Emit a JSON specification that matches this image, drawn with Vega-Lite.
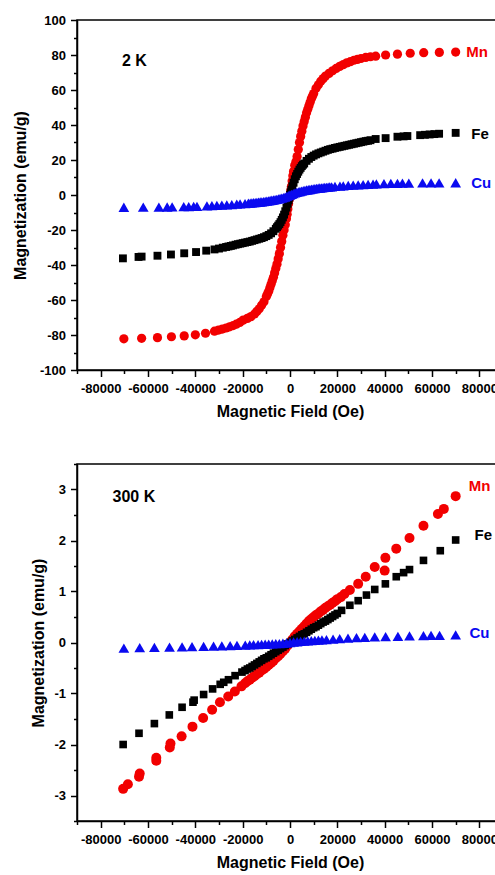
{
  "$schema": "https://vega.github.io/schema/vega-lite/v6.json",
  "padding": {"left": 11, "top": 13, "right": 0, "bottom": 0},
  "spacing": 41,
  "config": {
    "font": "Liberation Sans",
    "view": {"stroke": "black", "strokeWidth": 1.5},
    "axis": {
      "domainColor": "black", "domainWidth": 1.5, "tickColor": "black", "tickWidth": 1.5,
      "labelFont": "Liberation Sans", "labelFontWeight": "bold", "labelFontSize": 13, "labelColor": "black",
      "titleFont": "Liberation Sans", "titleFontWeight": "bold", "titleFontSize": 16, "titleColor": "black",
      "grid": false, "tickSize": 6.5, "labelPadding": 4
    },
    "axisX": {"labelPadding": 6},
    "axisY": {"labelPadding": 5}
  },
  "resolve": {"scale": {"size": "independent"}},
  "datasets": {
    "k2": [
      {"H": 0, "M": 0, "s": "Mn"}, {"H": 300, "M": 2.5, "s": "Mn"}, {"H": 600, "M": 5, "s": "Mn"}, {"H": 900, "M": 8, "s": "Mn"}, {"H": 1200, "M": 11, "s": "Mn"}, {"H": 1500, "M": 13.5, "s": "Mn"}, {"H": 2000, "M": 17, "s": "Mn"}, {"H": 2500, "M": 19, "s": "Mn"}, {"H": 3000, "M": 22, "s": "Mn"}, {"H": 3500, "M": 26, "s": "Mn"}, {"H": 4000, "M": 30, "s": "Mn"}, {"H": 4500, "M": 33.5, "s": "Mn"}, {"H": 5000, "M": 36.5, "s": "Mn"}, {"H": 5500, "M": 39.5, "s": "Mn"}, {"H": 6000, "M": 42, "s": "Mn"}, {"H": 6500, "M": 44.5, "s": "Mn"}, {"H": 7000, "M": 47, "s": "Mn"}, {"H": 7500, "M": 49, "s": "Mn"}, {"H": 8000, "M": 51, "s": "Mn"}, {"H": 8500, "M": 53, "s": "Mn"}, {"H": 9000, "M": 55, "s": "Mn"}, {"H": 9500, "M": 56.5, "s": "Mn"}, {"H": 10000, "M": 58, "s": "Mn"}, {"H": 11000, "M": 61, "s": "Mn"}, {"H": 12000, "M": 63, "s": "Mn"}, {"H": 13000, "M": 65, "s": "Mn"}, {"H": 14000, "M": 66.5, "s": "Mn"}, {"H": 15000, "M": 68, "s": "Mn"}, {"H": 16500, "M": 69.5, "s": "Mn"}, {"H": 18000, "M": 71, "s": "Mn"}, {"H": 19500, "M": 72.3, "s": "Mn"}, {"H": 21000, "M": 73.5, "s": "Mn"}, {"H": 22500, "M": 74.5, "s": "Mn"}, {"H": 24000, "M": 75.5, "s": "Mn"}, {"H": 25500, "M": 76.2, "s": "Mn"}, {"H": 27000, "M": 77, "s": "Mn"}, {"H": 28500, "M": 77.5, "s": "Mn"}, {"H": 30000, "M": 78, "s": "Mn"}, {"H": 32000, "M": 78.6, "s": "Mn"}, {"H": 34000, "M": 79, "s": "Mn"}, {"H": 36200, "M": 79.3, "s": "Mn"}, {"H": 40400, "M": 80, "s": "Mn"}, {"H": 45400, "M": 80.5, "s": "Mn"}, {"H": 50800, "M": 81, "s": "Mn"}, {"H": 56500, "M": 81.3, "s": "Mn"}, {"H": 63100, "M": 81.5, "s": "Mn"}, {"H": 70000, "M": 81.7, "s": "Mn"},
      {"H": -300, "M": -2.5, "s": "Mn"}, {"H": -600, "M": -5, "s": "Mn"}, {"H": -900, "M": -8, "s": "Mn"}, {"H": -1200, "M": -11, "s": "Mn"}, {"H": -1500, "M": -13.5, "s": "Mn"}, {"H": -2000, "M": -17, "s": "Mn"}, {"H": -2500, "M": -20, "s": "Mn"}, {"H": -3000, "M": -23, "s": "Mn"}, {"H": -3500, "M": -26.5, "s": "Mn"}, {"H": -4000, "M": -30, "s": "Mn"}, {"H": -4500, "M": -33.5, "s": "Mn"}, {"H": -5000, "M": -36.5, "s": "Mn"}, {"H": -5500, "M": -39.5, "s": "Mn"}, {"H": -6000, "M": -42, "s": "Mn"}, {"H": -6500, "M": -44.5, "s": "Mn"}, {"H": -7000, "M": -47, "s": "Mn"}, {"H": -7500, "M": -49, "s": "Mn"}, {"H": -8000, "M": -51, "s": "Mn"}, {"H": -8500, "M": -53, "s": "Mn"}, {"H": -9000, "M": -55, "s": "Mn"}, {"H": -9500, "M": -56.5, "s": "Mn"}, {"H": -10000, "M": -58, "s": "Mn"}, {"H": -11000, "M": -61, "s": "Mn"}, {"H": -12000, "M": -63, "s": "Mn"}, {"H": -13000, "M": -65, "s": "Mn"}, {"H": -14000, "M": -66.5, "s": "Mn"}, {"H": -15000, "M": -68, "s": "Mn"}, {"H": -16500, "M": -69.5, "s": "Mn"}, {"H": -18000, "M": -70.5, "s": "Mn"}, {"H": -19800, "M": -71.5, "s": "Mn"}, {"H": -21200, "M": -72.8, "s": "Mn"}, {"H": -22700, "M": -73.8, "s": "Mn"}, {"H": -24000, "M": -74.6, "s": "Mn"}, {"H": -25500, "M": -75.3, "s": "Mn"}, {"H": -27000, "M": -76, "s": "Mn"}, {"H": -28600, "M": -76.6, "s": "Mn"}, {"H": -30200, "M": -77.2, "s": "Mn"}, {"H": -31900, "M": -77.8, "s": "Mn"}, {"H": -35700, "M": -79, "s": "Mn"}, {"H": -40000, "M": -79.9, "s": "Mn"}, {"H": -44700, "M": -80.5, "s": "Mn"}, {"H": -50100, "M": -81, "s": "Mn"}, {"H": -56000, "M": -81.5, "s": "Mn"}, {"H": -62700, "M": -81.9, "s": "Mn"}, {"H": -70200, "M": -82.2, "s": "Mn"},

      {"H": 0, "M": 0, "s": "Fe"}, {"H": 300, "M": 1.5, "s": "Fe"}, {"H": 600, "M": 3, "s": "Fe"}, {"H": 1000, "M": 5, "s": "Fe"}, {"H": 1500, "M": 7, "s": "Fe"}, {"H": 2000, "M": 9, "s": "Fe"}, {"H": 2500, "M": 10.7, "s": "Fe"}, {"H": 3000, "M": 12, "s": "Fe"}, {"H": 3500, "M": 13.3, "s": "Fe"}, {"H": 4000, "M": 14.5, "s": "Fe"}, {"H": 4500, "M": 15.5, "s": "Fe"}, {"H": 5000, "M": 16.5, "s": "Fe"}, {"H": 5500, "M": 17.3, "s": "Fe"}, {"H": 6000, "M": 18, "s": "Fe"}, {"H": 7000, "M": 19.5, "s": "Fe"}, {"H": 8000, "M": 20.7, "s": "Fe"}, {"H": 9000, "M": 21.7, "s": "Fe"}, {"H": 10000, "M": 22.5, "s": "Fe"}, {"H": 11000, "M": 23.2, "s": "Fe"}, {"H": 12000, "M": 23.8, "s": "Fe"}, {"H": 13000, "M": 24.3, "s": "Fe"}, {"H": 14000, "M": 24.8, "s": "Fe"}, {"H": 15000, "M": 25.3, "s": "Fe"}, {"H": 16000, "M": 25.8, "s": "Fe"}, {"H": 17000, "M": 26.2, "s": "Fe"}, {"H": 18000, "M": 26.5, "s": "Fe"}, {"H": 19000, "M": 26.9, "s": "Fe"}, {"H": 20000, "M": 27.2, "s": "Fe"}, {"H": 21000, "M": 27.5, "s": "Fe"}, {"H": 22000, "M": 27.8, "s": "Fe"}, {"H": 23000, "M": 28.1, "s": "Fe"}, {"H": 24000, "M": 28.4, "s": "Fe"}, {"H": 25000, "M": 28.7, "s": "Fe"}, {"H": 26000, "M": 29, "s": "Fe"}, {"H": 27000, "M": 29.3, "s": "Fe"}, {"H": 28000, "M": 29.6, "s": "Fe"}, {"H": 29000, "M": 29.9, "s": "Fe"}, {"H": 30000, "M": 30.2, "s": "Fe"}, {"H": 31000, "M": 30.5, "s": "Fe"}, {"H": 32000, "M": 30.8, "s": "Fe"}, {"H": 33000, "M": 31, "s": "Fe"}, {"H": 34000, "M": 31.3, "s": "Fe"}, {"H": 36200, "M": 32, "s": "Fe"}, {"H": 40400, "M": 32.5, "s": "Fe"}, {"H": 45400, "M": 33.3, "s": "Fe"}, {"H": 48000, "M": 33.5, "s": "Fe"}, {"H": 49600, "M": 33.7, "s": "Fe"}, {"H": 55000, "M": 34.2, "s": "Fe"}, {"H": 57000, "M": 34.4, "s": "Fe"}, {"H": 59000, "M": 34.6, "s": "Fe"}, {"H": 61000, "M": 34.8, "s": "Fe"}, {"H": 63000, "M": 35, "s": "Fe"}, {"H": 70000, "M": 35.5, "s": "Fe"},
      {"H": -300, "M": -1.5, "s": "Fe"}, {"H": -600, "M": -3, "s": "Fe"}, {"H": -1000, "M": -5, "s": "Fe"}, {"H": -1500, "M": -7.2, "s": "Fe"}, {"H": -2000, "M": -9.3, "s": "Fe"}, {"H": -2500, "M": -11.2, "s": "Fe"}, {"H": -3000, "M": -12.8, "s": "Fe"}, {"H": -3500, "M": -14.2, "s": "Fe"}, {"H": -4000, "M": -15.5, "s": "Fe"}, {"H": -4500, "M": -16.6, "s": "Fe"}, {"H": -5000, "M": -17.5, "s": "Fe"}, {"H": -5500, "M": -18.4, "s": "Fe"}, {"H": -6000, "M": -19.3, "s": "Fe"}, {"H": -7000, "M": -20.7, "s": "Fe"}, {"H": -8000, "M": -21.9, "s": "Fe"}, {"H": -9000, "M": -22.8, "s": "Fe"}, {"H": -10000, "M": -23.5, "s": "Fe"}, {"H": -11000, "M": -24.1, "s": "Fe"}, {"H": -12000, "M": -24.6, "s": "Fe"}, {"H": -13000, "M": -25, "s": "Fe"}, {"H": -14000, "M": -25.4, "s": "Fe"}, {"H": -15000, "M": -25.8, "s": "Fe"}, {"H": -16000, "M": -26.2, "s": "Fe"}, {"H": -17000, "M": -26.6, "s": "Fe"}, {"H": -18000, "M": -26.9, "s": "Fe"}, {"H": -19000, "M": -27.2, "s": "Fe"}, {"H": -20000, "M": -27.5, "s": "Fe"}, {"H": -21000, "M": -27.8, "s": "Fe"}, {"H": -22000, "M": -28.1, "s": "Fe"}, {"H": -23000, "M": -28.4, "s": "Fe"}, {"H": -24100, "M": -28.8, "s": "Fe"}, {"H": -25000, "M": -29.1, "s": "Fe"}, {"H": -26000, "M": -29.4, "s": "Fe"}, {"H": -27000, "M": -29.7, "s": "Fe"}, {"H": -28400, "M": -30.1, "s": "Fe"}, {"H": -30000, "M": -30.6, "s": "Fe"}, {"H": -31900, "M": -31.1, "s": "Fe"}, {"H": -35400, "M": -31.8, "s": "Fe"}, {"H": -39700, "M": -32.6, "s": "Fe"}, {"H": -44700, "M": -33.3, "s": "Fe"}, {"H": -50300, "M": -34, "s": "Fe"}, {"H": -56000, "M": -34.7, "s": "Fe"}, {"H": -62700, "M": -35.2, "s": "Fe"}, {"H": -64000, "M": -35.4, "s": "Fe"}, {"H": -70600, "M": -36.2, "s": "Fe"},

      {"H": 0, "M": 0, "s": "Cu"}, {"H": 700, "M": 0.4, "s": "Cu"}, {"H": 1400, "M": 0.8, "s": "Cu"}, {"H": 2100, "M": 1.2, "s": "Cu"}, {"H": 2800, "M": 1.5, "s": "Cu"}, {"H": 3500, "M": 1.8, "s": "Cu"}, {"H": 4200, "M": 2.0, "s": "Cu"}, {"H": 4900, "M": 2.25, "s": "Cu"}, {"H": 5600, "M": 2.45, "s": "Cu"}, {"H": 6300, "M": 2.65, "s": "Cu"}, {"H": 7000, "M": 2.85, "s": "Cu"}, {"H": 7700, "M": 3.0, "s": "Cu"}, {"H": 8400, "M": 3.15, "s": "Cu"}, {"H": 9100, "M": 3.3, "s": "Cu"}, {"H": 9800, "M": 3.45, "s": "Cu"}, {"H": 10500, "M": 3.6, "s": "Cu"}, {"H": 11200, "M": 3.75, "s": "Cu"}, {"H": 11900, "M": 3.9, "s": "Cu"}, {"H": 12600, "M": 4.0, "s": "Cu"}, {"H": 13300, "M": 4.1, "s": "Cu"}, {"H": 14000, "M": 4.2, "s": "Cu"}, {"H": 14700, "M": 4.3, "s": "Cu"}, {"H": 15400, "M": 4.4, "s": "Cu"}, {"H": 16100, "M": 4.5, "s": "Cu"}, {"H": 16800, "M": 4.6, "s": "Cu"}, {"H": 17600, "M": 4.7, "s": "Cu"}, {"H": 19000, "M": 4.9, "s": "Cu"}, {"H": 21100, "M": 5.1, "s": "Cu"}, {"H": 22500, "M": 5.25, "s": "Cu"}, {"H": 24600, "M": 5.45, "s": "Cu"}, {"H": 26700, "M": 5.6, "s": "Cu"}, {"H": 28800, "M": 5.75, "s": "Cu"}, {"H": 30900, "M": 5.9, "s": "Cu"}, {"H": 33000, "M": 6.05, "s": "Cu"}, {"H": 35100, "M": 6.2, "s": "Cu"}, {"H": 36500, "M": 6.3, "s": "Cu"}, {"H": 39700, "M": 6.5, "s": "Cu"}, {"H": 42600, "M": 6.6, "s": "Cu"}, {"H": 45400, "M": 6.7, "s": "Cu"}, {"H": 47500, "M": 6.75, "s": "Cu"}, {"H": 50200, "M": 6.8, "s": "Cu"}, {"H": 56000, "M": 6.9, "s": "Cu"}, {"H": 59600, "M": 6.9, "s": "Cu"}, {"H": 63000, "M": 6.95, "s": "Cu"}, {"H": 70000, "M": 7.0, "s": "Cu"},
      {"H": -700, "M": -0.4, "s": "Cu"}, {"H": -1400, "M": -0.8, "s": "Cu"}, {"H": -2100, "M": -1.2, "s": "Cu"}, {"H": -2800, "M": -1.5, "s": "Cu"}, {"H": -3500, "M": -1.8, "s": "Cu"}, {"H": -4200, "M": -2.0, "s": "Cu"}, {"H": -4900, "M": -2.25, "s": "Cu"}, {"H": -5600, "M": -2.45, "s": "Cu"}, {"H": -6300, "M": -2.65, "s": "Cu"}, {"H": -7000, "M": -2.85, "s": "Cu"}, {"H": -7700, "M": -3.0, "s": "Cu"}, {"H": -8400, "M": -3.15, "s": "Cu"}, {"H": -9100, "M": -3.3, "s": "Cu"}, {"H": -9800, "M": -3.45, "s": "Cu"}, {"H": -10500, "M": -3.6, "s": "Cu"}, {"H": -11200, "M": -3.75, "s": "Cu"}, {"H": -11900, "M": -3.9, "s": "Cu"}, {"H": -12600, "M": -4.0, "s": "Cu"}, {"H": -13300, "M": -4.1, "s": "Cu"}, {"H": -14000, "M": -4.2, "s": "Cu"}, {"H": -14700, "M": -4.3, "s": "Cu"}, {"H": -15400, "M": -4.4, "s": "Cu"}, {"H": -16100, "M": -4.5, "s": "Cu"}, {"H": -16800, "M": -4.6, "s": "Cu"}, {"H": -17600, "M": -4.7, "s": "Cu"}, {"H": -19000, "M": -4.9, "s": "Cu"}, {"H": -21100, "M": -5.1, "s": "Cu"}, {"H": -22500, "M": -5.25, "s": "Cu"}, {"H": -24600, "M": -5.45, "s": "Cu"}, {"H": -26700, "M": -5.6, "s": "Cu"}, {"H": -28800, "M": -5.75, "s": "Cu"}, {"H": -30900, "M": -5.9, "s": "Cu"}, {"H": -33000, "M": -6.05, "s": "Cu"}, {"H": -35100, "M": -6.2, "s": "Cu"}, {"H": -39300, "M": -6.45, "s": "Cu"}, {"H": -40700, "M": -6.5, "s": "Cu"}, {"H": -42800, "M": -6.6, "s": "Cu"}, {"H": -44900, "M": -6.7, "s": "Cu"}, {"H": -49800, "M": -6.8, "s": "Cu"}, {"H": -51900, "M": -6.85, "s": "Cu"}, {"H": -55400, "M": -6.9, "s": "Cu"}, {"H": -62000, "M": -6.95, "s": "Cu"}, {"H": -70200, "M": -7.0, "s": "Cu"}
    ],
    "k300": [
      {"H": 0, "M": 0, "s": "Mn"}, {"H": 1000, "M": 0.06, "s": "Mn"}, {"H": 2000, "M": 0.12, "s": "Mn"}, {"H": 3000, "M": 0.17, "s": "Mn"}, {"H": 4000, "M": 0.22, "s": "Mn"}, {"H": 5000, "M": 0.27, "s": "Mn"}, {"H": 6000, "M": 0.32, "s": "Mn"}, {"H": 7000, "M": 0.37, "s": "Mn"}, {"H": 8000, "M": 0.42, "s": "Mn"}, {"H": 9000, "M": 0.46, "s": "Mn"}, {"H": 10000, "M": 0.5, "s": "Mn"}, {"H": 11000, "M": 0.54, "s": "Mn"}, {"H": 12000, "M": 0.57, "s": "Mn"}, {"H": 13000, "M": 0.61, "s": "Mn"}, {"H": 14000, "M": 0.64, "s": "Mn"}, {"H": 15000, "M": 0.68, "s": "Mn"}, {"H": 16000, "M": 0.71, "s": "Mn"}, {"H": 17000, "M": 0.74, "s": "Mn"}, {"H": 18000, "M": 0.78, "s": "Mn"}, {"H": 19000, "M": 0.81, "s": "Mn"}, {"H": 20000, "M": 0.85, "s": "Mn"}, {"H": 21500, "M": 0.89, "s": "Mn"}, {"H": 23000, "M": 0.95, "s": "Mn"}, {"H": 25300, "M": 1.03, "s": "Mn"}, {"H": 28800, "M": 1.15, "s": "Mn"}, {"H": 32000, "M": 1.29, "s": "Mn"}, {"H": 35800, "M": 1.48, "s": "Mn"}, {"H": 40000, "M": 1.41, "s": "Mn"}, {"H": 40300, "M": 1.66, "s": "Mn"}, {"H": 44900, "M": 1.84, "s": "Mn"}, {"H": 50500, "M": 2.05, "s": "Mn"}, {"H": 56400, "M": 2.29, "s": "Mn"}, {"H": 62500, "M": 2.52, "s": "Mn"}, {"H": 65000, "M": 2.62, "s": "Mn"}, {"H": 70000, "M": 2.87, "s": "Mn"},
      {"H": -1000, "M": -0.06, "s": "Mn"}, {"H": -2000, "M": -0.12, "s": "Mn"}, {"H": -3000, "M": -0.17, "s": "Mn"}, {"H": -4000, "M": -0.22, "s": "Mn"}, {"H": -5000, "M": -0.27, "s": "Mn"}, {"H": -6000, "M": -0.31, "s": "Mn"}, {"H": -7000, "M": -0.36, "s": "Mn"}, {"H": -8000, "M": -0.4, "s": "Mn"}, {"H": -9000, "M": -0.44, "s": "Mn"}, {"H": -10000, "M": -0.48, "s": "Mn"}, {"H": -11000, "M": -0.52, "s": "Mn"}, {"H": -12000, "M": -0.55, "s": "Mn"}, {"H": -13000, "M": -0.59, "s": "Mn"}, {"H": -14000, "M": -0.62, "s": "Mn"}, {"H": -15000, "M": -0.66, "s": "Mn"}, {"H": -16000, "M": -0.69, "s": "Mn"}, {"H": -17000, "M": -0.73, "s": "Mn"}, {"H": -18000, "M": -0.76, "s": "Mn"}, {"H": -19000, "M": -0.8, "s": "Mn"}, {"H": -20500, "M": -0.86, "s": "Mn"}, {"H": -23300, "M": -0.96, "s": "Mn"}, {"H": -26100, "M": -1.06, "s": "Mn"}, {"H": -29600, "M": -1.17, "s": "Mn"}, {"H": -32900, "M": -1.32, "s": "Mn"}, {"H": -36700, "M": -1.48, "s": "Mn"}, {"H": -41200, "M": -1.65, "s": "Mn"}, {"H": -45800, "M": -1.84, "s": "Mn"}, {"H": -50500, "M": -1.98, "s": "Mn"}, {"H": -50800, "M": -2.06, "s": "Mn"}, {"H": -56500, "M": -2.26, "s": "Mn"}, {"H": -56500, "M": -2.32, "s": "Mn"}, {"H": -63500, "M": -2.57, "s": "Mn"}, {"H": -63800, "M": -2.63, "s": "Mn"}, {"H": -68500, "M": -2.78, "s": "Mn"}, {"H": -70500, "M": -2.87, "s": "Mn"},

      {"H": 0, "M": 0, "s": "Fe"}, {"H": 1000, "M": 0.03, "s": "Fe"}, {"H": 2000, "M": 0.06, "s": "Fe"}, {"H": 3000, "M": 0.09, "s": "Fe"}, {"H": 4000, "M": 0.12, "s": "Fe"}, {"H": 5000, "M": 0.15, "s": "Fe"}, {"H": 6000, "M": 0.17, "s": "Fe"}, {"H": 7000, "M": 0.2, "s": "Fe"}, {"H": 8000, "M": 0.23, "s": "Fe"}, {"H": 9000, "M": 0.26, "s": "Fe"}, {"H": 10000, "M": 0.29, "s": "Fe"}, {"H": 11000, "M": 0.31, "s": "Fe"}, {"H": 12000, "M": 0.34, "s": "Fe"}, {"H": 13000, "M": 0.37, "s": "Fe"}, {"H": 14000, "M": 0.4, "s": "Fe"}, {"H": 15000, "M": 0.42, "s": "Fe"}, {"H": 16000, "M": 0.45, "s": "Fe"}, {"H": 17000, "M": 0.48, "s": "Fe"}, {"H": 18000, "M": 0.51, "s": "Fe"}, {"H": 19000, "M": 0.54, "s": "Fe"}, {"H": 20000, "M": 0.57, "s": "Fe"}, {"H": 21800, "M": 0.63, "s": "Fe"}, {"H": 25300, "M": 0.73, "s": "Fe"}, {"H": 28800, "M": 0.82, "s": "Fe"}, {"H": 32300, "M": 0.93, "s": "Fe"}, {"H": 35800, "M": 1.04, "s": "Fe"}, {"H": 40300, "M": 1.15, "s": "Fe"}, {"H": 44900, "M": 1.29, "s": "Fe"}, {"H": 48000, "M": 1.37, "s": "Fe"}, {"H": 50500, "M": 1.43, "s": "Fe"}, {"H": 56400, "M": 1.61, "s": "Fe"}, {"H": 63500, "M": 1.8, "s": "Fe"}, {"H": 70000, "M": 2.01, "s": "Fe"},
      {"H": -1000, "M": -0.03, "s": "Fe"}, {"H": -2000, "M": -0.06, "s": "Fe"}, {"H": -3000, "M": -0.09, "s": "Fe"}, {"H": -4000, "M": -0.12, "s": "Fe"}, {"H": -5000, "M": -0.15, "s": "Fe"}, {"H": -6000, "M": -0.18, "s": "Fe"}, {"H": -7000, "M": -0.21, "s": "Fe"}, {"H": -8000, "M": -0.24, "s": "Fe"}, {"H": -9000, "M": -0.27, "s": "Fe"}, {"H": -10000, "M": -0.3, "s": "Fe"}, {"H": -11000, "M": -0.32, "s": "Fe"}, {"H": -12000, "M": -0.35, "s": "Fe"}, {"H": -13000, "M": -0.38, "s": "Fe"}, {"H": -14000, "M": -0.41, "s": "Fe"}, {"H": -15000, "M": -0.44, "s": "Fe"}, {"H": -16000, "M": -0.47, "s": "Fe"}, {"H": -17000, "M": -0.5, "s": "Fe"}, {"H": -18000, "M": -0.52, "s": "Fe"}, {"H": -19000, "M": -0.55, "s": "Fe"}, {"H": -20300, "M": -0.58, "s": "Fe"}, {"H": -23200, "M": -0.65, "s": "Fe"}, {"H": -26000, "M": -0.73, "s": "Fe"}, {"H": -28000, "M": -0.78, "s": "Fe"}, {"H": -29500, "M": -0.82, "s": "Fe"}, {"H": -32700, "M": -0.91, "s": "Fe"}, {"H": -36500, "M": -1.02, "s": "Fe"}, {"H": -40500, "M": -1.13, "s": "Fe"}, {"H": -41000, "M": -1.17, "s": "Fe"}, {"H": -45600, "M": -1.27, "s": "Fe"}, {"H": -51000, "M": -1.42, "s": "Fe"}, {"H": -57300, "M": -1.59, "s": "Fe"}, {"H": -63800, "M": -1.78, "s": "Fe"}, {"H": -70500, "M": -2.0, "s": "Fe"},

      {"H": 0, "M": 0.0, "s": "Cu"}, {"H": 1500, "M": 0.01, "s": "Cu"}, {"H": 3000, "M": 0.015, "s": "Cu"}, {"H": 4500, "M": 0.02, "s": "Cu"}, {"H": 6000, "M": 0.025, "s": "Cu"}, {"H": 7500, "M": 0.03, "s": "Cu"}, {"H": 9000, "M": 0.035, "s": "Cu"}, {"H": 10500, "M": 0.04, "s": "Cu"}, {"H": 12000, "M": 0.045, "s": "Cu"}, {"H": 13500, "M": 0.05, "s": "Cu"}, {"H": 15400, "M": 0.055, "s": "Cu"}, {"H": 18200, "M": 0.065, "s": "Cu"}, {"H": 21000, "M": 0.075, "s": "Cu"}, {"H": 24500, "M": 0.085, "s": "Cu"}, {"H": 28100, "M": 0.095, "s": "Cu"}, {"H": 31600, "M": 0.1, "s": "Cu"}, {"H": 35800, "M": 0.11, "s": "Cu"}, {"H": 40400, "M": 0.115, "s": "Cu"}, {"H": 45600, "M": 0.12, "s": "Cu"}, {"H": 50500, "M": 0.13, "s": "Cu"}, {"H": 56400, "M": 0.135, "s": "Cu"}, {"H": 59600, "M": 0.14, "s": "Cu"}, {"H": 63200, "M": 0.14, "s": "Cu"}, {"H": 70000, "M": 0.15, "s": "Cu"},
      {"H": -1500, "M": -0.01, "s": "Cu"}, {"H": -3000, "M": -0.015, "s": "Cu"}, {"H": -4500, "M": -0.02, "s": "Cu"}, {"H": -6000, "M": -0.023, "s": "Cu"}, {"H": -7500, "M": -0.027, "s": "Cu"}, {"H": -9000, "M": -0.03, "s": "Cu"}, {"H": -10500, "M": -0.034, "s": "Cu"}, {"H": -12000, "M": -0.037, "s": "Cu"}, {"H": -13500, "M": -0.04, "s": "Cu"}, {"H": -15400, "M": -0.043, "s": "Cu"}, {"H": -17000, "M": -0.046, "s": "Cu"}, {"H": -18900, "M": -0.05, "s": "Cu"}, {"H": -22400, "M": -0.055, "s": "Cu"}, {"H": -25300, "M": -0.06, "s": "Cu"}, {"H": -28800, "M": -0.065, "s": "Cu"}, {"H": -32300, "M": -0.07, "s": "Cu"}, {"H": -36500, "M": -0.075, "s": "Cu"}, {"H": -41400, "M": -0.08, "s": "Cu"}, {"H": -45600, "M": -0.085, "s": "Cu"}, {"H": -50900, "M": -0.09, "s": "Cu"}, {"H": -57300, "M": -0.095, "s": "Cu"}, {"H": -63500, "M": -0.1, "s": "Cu"}, {"H": -70200, "M": -0.11, "s": "Cu"}
    ],
    "lab2": [
      {"H": 74500, "M": 81.5, "s": "Mn", "t": "Mn"},
      {"H": 76600, "M": 35, "s": "Fe", "t": "Fe"},
      {"H": 76600, "M": 6.8, "s": "Cu", "t": "Cu"}
    ],
    "lab300": [
      {"H": 75500, "M": 3.07, "s": "Mn", "t": "Mn"},
      {"H": 78000, "M": 2.1, "s": "Fe", "t": "Fe"},
      {"H": 75800, "M": 0.18, "s": "Cu", "t": "Cu"}
    ],
    "temp2": [{"H": -71000, "M": 76.5, "t": "2 K"}],
    "temp300": [{"H": -75000, "M": 2.86, "t": "300 K"}]
  },
  "vconcat": [
    {
      "width": 426,
      "height": 350,
      "resolve": {"axis": {"x": "independent", "y": "independent"}},
      "layer": [
        {
          "mark": {"type": "rule", "color": "black", "strokeWidth": 1.3},
          "encoding": {
            "x": {"datum": 0, "type": "quantitative", "scale": {"domain": [-90000, 90000], "nice": false, "zero": false},
                  "axis": {"orient": "bottom", "values": [-90000, -70000, -50000, -30000, -10000, 10000, 30000, 50000, 70000, 90000], "labels": false, "domain": false, "tickSize": 3.5, "title": null}}
          }
        },
        {
          "mark": {"type": "rule", "color": "black", "strokeWidth": 1.3},
          "encoding": {
            "y": {"datum": 0, "type": "quantitative", "scale": {"domain": [-100, 100], "nice": false, "zero": false},
                  "axis": {"orient": "left", "values": [-90, -70, -50, -30, -10, 10, 30, 50, 70, 90], "labels": false, "domain": false, "tickSize": 3.5, "title": null}}
          }
        },
        {
          "data": {"name": "k2"},
          "mark": {"type": "point", "filled": true, "opacity": 1, "strokeWidth": 0},
          "encoding": {
            "x": {"field": "H", "type": "quantitative", "scale": {"domain": [-90000, 90000], "nice": false, "zero": false},
                  "axis": {"orient": "bottom", "values": [-80000, -60000, -40000, -20000, 0, 20000, 40000, 60000, 80000], "labelExpr": "'' + datum.value", "labelFlush": false, "labelOverlap": false, "title": "Magnetic Field (Oe)", "titlePadding": 8}},
            "y": {"field": "M", "type": "quantitative", "scale": {"domain": [-100, 100], "nice": false, "zero": false},
                  "axis": {"orient": "left", "values": [-100, -80, -60, -40, -20, 0, 20, 40, 60, 80, 100], "labelExpr": "'' + datum.value", "labelFlush": false, "labelOverlap": false, "title": "Magnetization (emu/g)", "titlePadding": 11}},
            "color": {"field": "s", "type": "nominal", "scale": {"domain": ["Mn", "Fe", "Cu"], "range": ["#f20000", "#000000", "#0a0af0"]}, "legend": null},
            "shape": {"field": "s", "type": "nominal", "scale": {"domain": ["Mn", "Fe", "Cu"], "range": ["circle", "square", "triangle-up"]}, "legend": null},
            "size": {"field": "s", "type": "nominal", "scale": {"type": "ordinal", "domain": ["Mn", "Fe", "Cu"], "range": [85, 62, 115]}, "legend": null}
          }
        },
        {
          "data": {"name": "lab2"},
          "mark": {"type": "text", "align": "left", "baseline": "middle", "fontWeight": "bold", "fontSize": 15, "font": "Liberation Sans"},
          "encoding": {
            "x": {"field": "H", "type": "quantitative", "axis": null},
            "y": {"field": "M", "type": "quantitative", "axis": null},
            "text": {"field": "t"},
            "color": {"field": "s", "type": "nominal", "legend": null}
          }
        },
        {
          "data": {"name": "temp2"},
          "mark": {"type": "text", "align": "left", "baseline": "middle", "fontWeight": "bold", "fontSize": 16, "font": "Liberation Sans", "color": "black"},
          "encoding": {
            "x": {"field": "H", "type": "quantitative", "axis": null},
            "y": {"field": "M", "type": "quantitative", "axis": null},
            "text": {"field": "t"}
          }
        }
      ]
    },
    {
      "width": 426,
      "height": 357,
      "resolve": {"axis": {"x": "independent", "y": "independent"}},
      "layer": [
        {
          "mark": {"type": "rule", "color": "black", "strokeWidth": 1.3},
          "encoding": {
            "x": {"datum": 0, "type": "quantitative", "scale": {"domain": [-90000, 90000], "nice": false, "zero": false},
                  "axis": {"orient": "bottom", "values": [-90000, -70000, -50000, -30000, -10000, 10000, 30000, 50000, 70000, 90000], "labels": false, "domain": false, "tickSize": 3.5, "title": null}}
          }
        },
        {
          "mark": {"type": "rule", "color": "black", "strokeWidth": 1.3},
          "encoding": {
            "y": {"datum": 0, "type": "quantitative", "scale": {"domain": [-3.5, 3.5], "nice": false, "zero": false},
                  "axis": {"orient": "left", "values": [-3.5, -2.5, -1.5, -0.5, 0.5, 1.5, 2.5, 3.5], "labels": false, "domain": false, "tickSize": 3.5, "title": null}}
          }
        },
        {
          "data": {"name": "k300"},
          "mark": {"type": "point", "filled": true, "opacity": 1, "strokeWidth": 0},
          "encoding": {
            "x": {"field": "H", "type": "quantitative", "scale": {"domain": [-90000, 90000], "nice": false, "zero": false},
                  "axis": {"orient": "bottom", "values": [-80000, -60000, -40000, -20000, 0, 20000, 40000, 60000, 80000], "labelExpr": "'' + datum.value", "labelFlush": false, "labelOverlap": false, "title": "Magnetic Field (Oe)", "titlePadding": 8}},
            "y": {"field": "M", "type": "quantitative", "scale": {"domain": [-3.5, 3.5], "nice": false, "zero": false},
                  "axis": {"orient": "left", "values": [-3, -2, -1, 0, 1, 2, 3], "labelExpr": "'' + datum.value", "labelFlush": false, "labelOverlap": false, "title": "Magnetization (emu/g)", "titlePadding": 7}},
            "color": {"field": "s", "type": "nominal", "scale": {"domain": ["Mn", "Fe", "Cu"], "range": ["#f20000", "#000000", "#0a0af0"]}, "legend": null},
            "shape": {"field": "s", "type": "nominal", "scale": {"domain": ["Mn", "Fe", "Cu"], "range": ["circle", "square", "triangle-up"]}, "legend": null},
            "size": {"field": "s", "type": "nominal", "scale": {"type": "ordinal", "domain": ["Mn", "Fe", "Cu"], "range": [100, 58, 115]}, "legend": null}
          }
        },
        {
          "data": {"name": "lab300"},
          "mark": {"type": "text", "align": "left", "baseline": "middle", "fontWeight": "bold", "fontSize": 15, "font": "Liberation Sans"},
          "encoding": {
            "x": {"field": "H", "type": "quantitative", "axis": null},
            "y": {"field": "M", "type": "quantitative", "axis": null},
            "text": {"field": "t"},
            "color": {"field": "s", "type": "nominal", "legend": null}
          }
        },
        {
          "data": {"name": "temp300"},
          "mark": {"type": "text", "align": "left", "baseline": "middle", "fontWeight": "bold", "fontSize": 16, "font": "Liberation Sans", "color": "black"},
          "encoding": {
            "x": {"field": "H", "type": "quantitative", "axis": null},
            "y": {"field": "M", "type": "quantitative", "axis": null},
            "text": {"field": "t"}
          }
        }
      ]
    }
  ]
}
